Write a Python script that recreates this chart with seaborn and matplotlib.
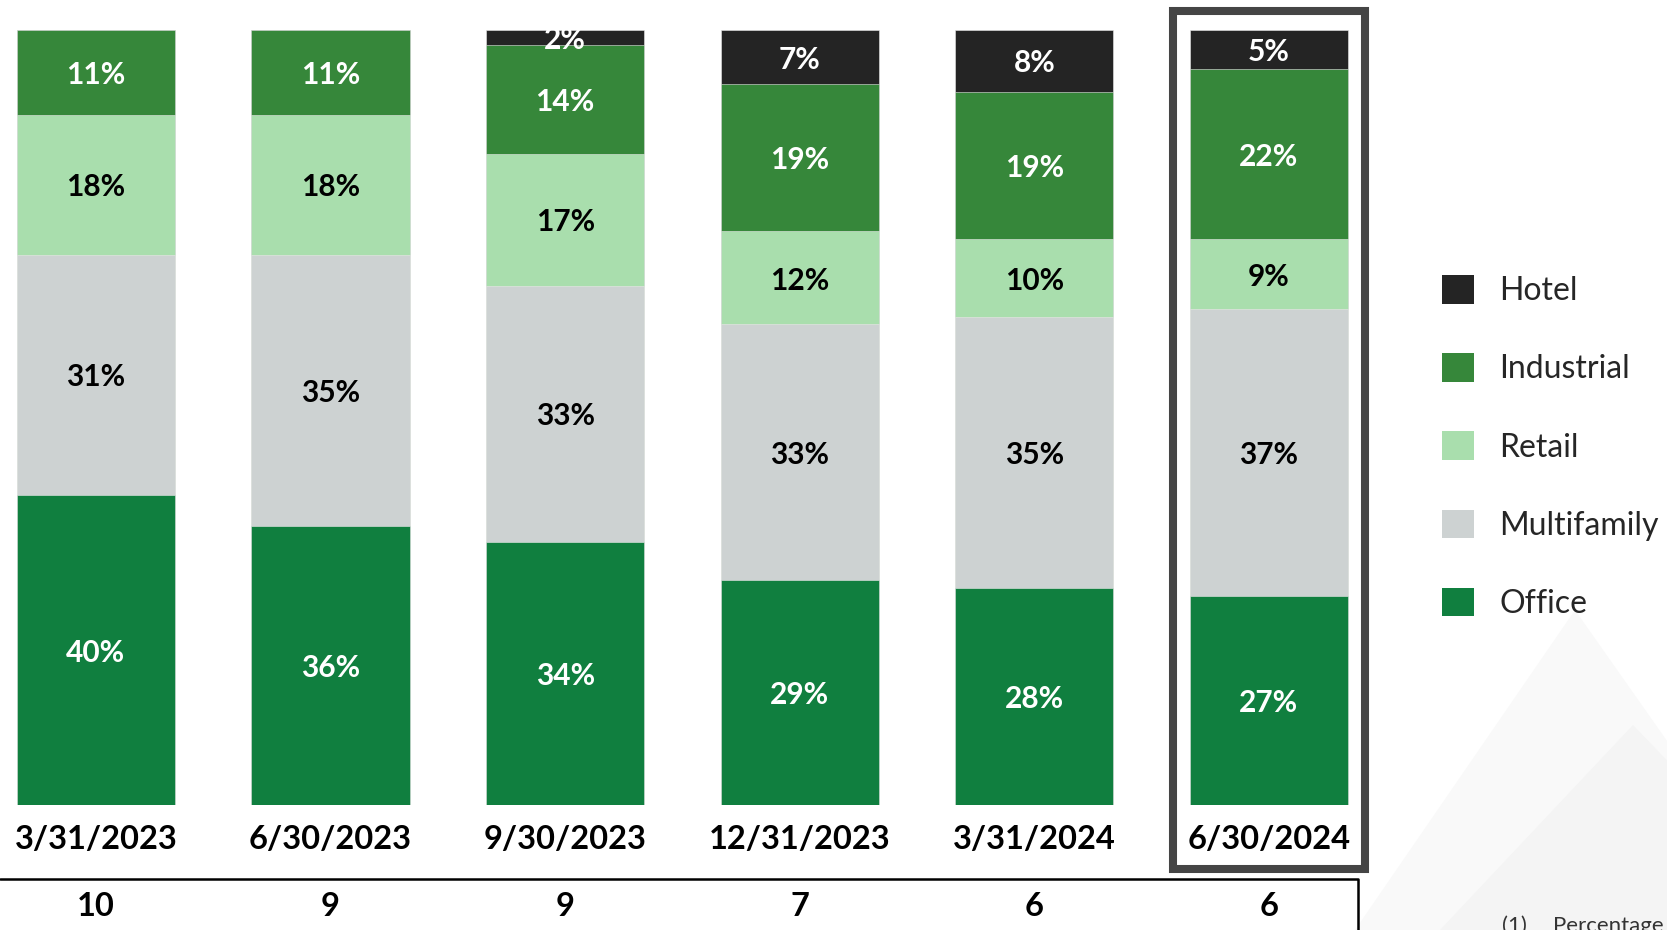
import matplotlib.pyplot as plt
import matplotlib.patches as mpatches
from matplotlib.lines import Line2D
import seaborn as sns
import pandas as pd
import numpy as np

# data
dates = ['3/31/2023', '6/30/2023', '9/30/2023', '12/31/2023', '3/31/2024', '6/30/2024']
counts = ['10', '9', '9', '7', '6', '6']
office = [40, 36, 34, 29, 28, 27]
multifamily = [31, 35, 33, 33, 35, 37]
retail = [18, 18, 17, 12, 10, 9]
industrial = [11, 11, 14, 19, 19, 22]
hotel = [0, 0, 2, 7, 8, 5]

layers = ['Office', 'Multifamily', 'Retail', 'Industrial', 'Hotel']
colors = {'Office': '#107F3F', 'Multifamily': '#CDD2D2', 'Retail': '#A9DEAD',
          'Industrial': '#36873A', 'Hotel': '#242424'}
text_colors = {'Office': 'white', 'Multifamily': 'black', 'Retail': 'black',
               'Industrial': 'white', 'Hotel': 'white'}

df = pd.DataFrame({'date': dates, 'Office': office, 'Multifamily': multifamily,
                   'Retail': retail, 'Industrial': industrial, 'Hotel': hotel})
cum = df[layers].cumsum(axis=1)

sns.set_style('white')
plt.rcParams['font.family'] = ['Lato', 'DejaVu Sans']

W, H = 1667, 930
fig = plt.figure(figsize=(W / 100, H / 100), dpi=100)
ax = fig.add_axes([0, 1 - 805 / H, 1, (805 - 30) / H])

# stacked bars: draw cumulative totals from top layer down
for layer in layers[::-1]:
    sns.barplot(x=df['date'], y=cum[layer], color=colors[layer], width=0.675,
                saturation=1, edgecolor='#e8e8e8', linewidth=0.4, ax=ax)

for i in range(len(dates)):
    bottom = 0
    for layer in layers:
        v = df[layer][i]
        if v > 0:
            ax.text(i, bottom + v / 2, f'{v}%', ha='center', va='center_baseline',
                    fontsize=21.5, fontweight='bold', color=text_colors[layer],
                    clip_on=True)
        bottom += v

ax.set_xlim(-0.409, 6.697)
ax.set_ylim(0, 100)
ax.axis('off')

for i, (d, c) in enumerate(zip(dates, counts)):
    ax.text(i, -0.044, d, transform=ax.get_xaxis_transform(), ha='center', va='center',
            fontsize=23.5, fontweight='bold', color='black', clip_on=False)
    ax.text(i, -0.131, c, transform=ax.get_xaxis_transform(), ha='center', va='center',
            fontsize=23.5, fontweight='bold', color='black', clip_on=False)

# faint background triangles
fig.patches.append(mpatches.Polygon([(1355 / W, 0), (1575 / W, 1 - 610 / H), (1800 / W, 0)],
                                    closed=True, transform=fig.transFigure,
                                    facecolor='#F9F9F9', edgecolor='none', zorder=0))
fig.patches.append(mpatches.Polygon([(1440 / W, 0), (1633 / W, 1 - 725 / H), (1830 / W, 0)],
                                    closed=True, transform=fig.transFigure,
                                    facecolor='#F4F4F4', edgecolor='none', zorder=0))

# highlight box around latest quarter
fig.patches.append(mpatches.Rectangle((1173 / W, 1 - 869 / H), (1365 - 1173) / W, (869 - 11) / H,
                                      transform=fig.transFigure, fill=False,
                                      edgecolor='#454545', linewidth=5.8, zorder=5))

# table line under dates
fig.add_artist(Line2D([0, 1358 / W, 1358 / W], [1 - 879 / H, 1 - 879 / H, 0],
                      transform=fig.transFigure, color='black', linewidth=1.8))

handles = [mpatches.Patch(facecolor=colors[l], edgecolor='none') for l in layers[::-1]]
fig.legend(handles, layers[::-1], loc='center left',
           bbox_to_anchor=(1442 / W, 1 - 447 / H), frameon=False, fontsize=23,
           handlelength=1.0, handleheight=1.0, handletextpad=0.8,
           labelspacing=1.47, borderpad=0, borderaxespad=0)

fig.text(1502 / W, 1 - 926 / H, '(1)', fontsize=16, va='center', ha='left', color='#333333')
fig.text(1553 / W, 1 - 926 / H, 'Percentage', fontsize=16, va='center', ha='left',
         color='#333333')

fig.savefig('out.png', dpi=100)
